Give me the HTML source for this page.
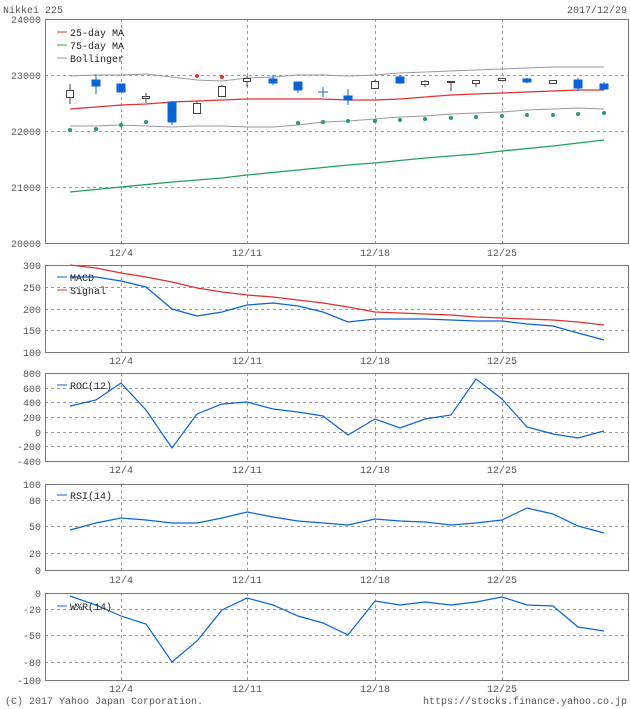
<!DOCTYPE html>
<html><head><meta charset="utf-8"><style>
html,body{margin:0;padding:0;background:#fff;}
svg{display:block;font-family:"Liberation Mono","DejaVu Sans Mono",monospace;font-size:10px;}
.ax{fill:#555}
.g{stroke:#999;stroke-dasharray:3,3;stroke-width:1;fill:none}
.b{stroke:#777;fill:none;stroke-width:1}
.lg{fill:#222}
</style></head><body>
<svg width="630" height="709" viewBox="0 0 630 709">
<text x="3" y="13" class="ax">Nikkei 225</text>
<text x="627" y="13" class="ax" text-anchor="end">2017/12/29</text>

<!-- TOP PANEL -->
<g>
<line class="g" x1="45" x2="629" y1="75.5" y2="75.5"/><line class="g" x1="45" x2="629" y1="131.5" y2="131.5"/><line class="g" x1="45" x2="629" y1="187.5" y2="187.5"/>
<line class="g" x1="121.5" x2="121.5" y1="19" y2="243"/><line class="g" x1="247.5" x2="247.5" y1="19" y2="243"/><line class="g" x1="375.5" x2="375.5" y1="19" y2="243"/><line class="g" x1="502.5" x2="502.5" y1="19" y2="243"/>
<rect class="b" x="45.5" y="19.5" width="583" height="224"/>
<g class="ax" text-anchor="end"><text x="41" y="23">24000</text><text x="41" y="79">23000</text><text x="41" y="135">22000</text><text x="41" y="191">21000</text><text x="41" y="247">20000</text></g>
<g class="ax" text-anchor="middle"><text x="121" y="256">12/4</text><text x="247" y="256">12/11</text><text x="375" y="256">12/18</text><text x="502" y="256">12/25</text></g>
<polyline fill="none" stroke="#999" points="70,76 96,75 121,75 146,74 172,77 197,80 222,81 247,78 273,77 298,75 323,75 348,76 375,75 400,73 425,72 451,71 476,70 502,69 527,68 553,67 578,67 604,67"/>
<polyline fill="none" stroke="#999" points="70,126 96,126 121,125 146,126 172,127 197,126 222,126 247,127 273,127 298,125 323,122 348,121 375,119 400,117 425,116 451,114 476,113 502,112 527,110 553,109 578,108 604,109"/>
<polyline fill="none" stroke="#e03030" stroke-width="1.3" points="70,109 96,107 121,105 146,104 172,102 197,101 222,100 247,99 273,99 298,99 323,99 348,100 375,100 400,99 425,97 451,95 476,94 502,93 527,92 553,91 578,90 604,90"/>
<polyline fill="none" stroke="#20a060" stroke-width="1.3" points="70,192 121,187 172,182 222,178 247,175 298,170 348,165 375,163 425,158 476,154 502,151 553,146 604,140"/>
<g fill="#20a060"><circle cx="70" cy="130" r="2"/><circle cx="96" cy="129" r="2"/><circle cx="121" cy="125" r="2"/><circle cx="146" cy="122" r="2"/><circle cx="298" cy="123" r="2"/><circle cx="323" cy="122" r="2"/><circle cx="348" cy="121" r="2"/><circle cx="375" cy="121" r="2"/><circle cx="400" cy="120" r="2"/><circle cx="425" cy="119" r="2"/><circle cx="451" cy="118" r="2"/><circle cx="476" cy="117" r="2"/><circle cx="502" cy="116" r="2"/><circle cx="527" cy="115" r="2"/><circle cx="553" cy="115" r="2"/><circle cx="578" cy="114" r="2"/><circle cx="604" cy="113" r="2"/></g>
<g fill="#e03030"><circle cx="197" cy="76" r="2"/><circle cx="222" cy="77" r="2"/></g>
<g stroke="#444" fill="#fff">
<line x1="70" x2="70" y1="84" y2="104"/><rect x="66.5" y="90.5" width="7" height="7"/>
<line x1="146" x2="146" y1="93" y2="103"/><rect x="142.5" y="96.5" width="7" height="2"/>
<line x1="197" x2="197" y1="101" y2="113"/><rect x="193.5" y="103.5" width="7" height="10"/>
<line x1="222" x2="222" y1="85" y2="96"/><rect x="218.5" y="86.5" width="7" height="10"/>
<line x1="247" x2="247" y1="76" y2="87"/><rect x="243.5" y="78.5" width="7" height="3"/>
<line x1="375" x2="375" y1="80" y2="89"/><rect x="371.5" y="81.5" width="7" height="7"/>
<line x1="425" x2="425" y1="80" y2="87"/><rect x="421.5" y="81.5" width="7" height="3"/>
<line x1="451" x2="451" y1="81" y2="91"/><rect x="447.5" y="81.5" width="7" height="1" fill="#444"/>
<line x1="476" x2="476" y1="80" y2="87"/><rect x="472.5" y="80.5" width="7" height="3"/>
<line x1="502" x2="502" y1="78" y2="81"/><rect x="498.5" y="78.5" width="7" height="2"/>
<line x1="553" x2="553" y1="80" y2="83"/><rect x="549.5" y="80.5" width="7" height="3"/>
</g>
<g stroke="#0a64d8" fill="#0a64d8">
<line x1="96" x2="96" y1="75" y2="94"/><rect x="92" y="80" width="8" height="6"/>
<line x1="121" x2="121" y1="84" y2="92"/><rect x="117" y="84" width="8" height="8"/>
<line x1="172" x2="172" y1="101" y2="125"/><rect x="168" y="102" width="8" height="20"/>
<line x1="273" x2="273" y1="75" y2="85"/><rect x="269" y="79" width="8" height="4"/>
<line x1="298" x2="298" y1="82" y2="93"/><rect x="294" y="82" width="8" height="8"/>
<line x1="323" x2="323" y1="87" y2="97"/><line x1="318" x2="328" y1="92" y2="92"/>
<line x1="348" x2="348" y1="89" y2="105"/><rect x="344" y="96" width="8" height="4"/>
<line x1="400" x2="400" y1="75" y2="84"/><rect x="396" y="77" width="8" height="6"/>
<line x1="527" x2="527" y1="78" y2="83"/><rect x="523" y="79" width="8" height="3"/>
<line x1="578" x2="578" y1="78" y2="91"/><rect x="574" y="80" width="8" height="8"/>
<line x1="604" x2="604" y1="82" y2="90"/><rect x="600" y="84" width="8" height="5"/>
</g>
<line x1="57" x2="67" y1="32" y2="32" stroke="#e03030"/><text x="70" y="36" class="lg">25-day MA</text>
<line x1="57" x2="67" y1="45" y2="45" stroke="#20a060"/><text x="70" y="49" class="lg">75-day MA</text>
<line x1="57" x2="67" y1="58" y2="58" stroke="#999"/><text x="70" y="62" class="lg">Bollinger</text>
</g>

<!-- MACD -->
<g>
<line class="g" x1="45" x2="629" y1="287.5" y2="287.5"/><line class="g" x1="45" x2="629" y1="309.5" y2="309.5"/><line class="g" x1="45" x2="629" y1="330.5" y2="330.5"/>
<line class="g" x1="121.5" x2="121.5" y1="265" y2="352"/><line class="g" x1="247.5" x2="247.5" y1="265" y2="352"/><line class="g" x1="375.5" x2="375.5" y1="265" y2="352"/><line class="g" x1="502.5" x2="502.5" y1="265" y2="352"/>
<rect class="b" x="45.5" y="265.5" width="583" height="87"/>
<g class="ax" text-anchor="end"><text x="41" y="269">300</text><text x="41" y="291">250</text><text x="41" y="313">200</text><text x="41" y="334">150</text><text x="41" y="356">100</text></g>
<g class="ax" text-anchor="middle"><text x="121" y="364">12/4</text><text x="247" y="364">12/11</text><text x="375" y="364">12/18</text><text x="502" y="364">12/25</text></g>
<polyline fill="none" stroke="#e03030" stroke-width="1.3" points="70,265 96,268 121,273 146,277 172,282 197,288 222,292 247,295 273,297 298,300 323,303 348,307 375,312 400,313 425,314 451,315 476,317 502,318 527,319 553,320 578,322 604,325"/>
<polyline fill="none" stroke="#0a64d8" stroke-width="1.3" points="70,277 96,277 121,281 146,287 172,309 197,316 222,312 247,305 273,303 298,306 323,312 348,322 375,319 400,319 425,319 451,320 476,321 502,321 527,324 553,326 578,333 604,340"/>
<line x1="57" x2="67" y1="277" y2="277" stroke="#0a64d8"/><text x="70" y="281" class="lg">MACD</text>
<line x1="57" x2="67" y1="290" y2="290" stroke="#e03030"/><text x="70" y="294" class="lg">Signal</text>
</g>

<!-- ROC -->
<g>
<line class="g" x1="45" x2="629" y1="388.5" y2="388.5"/><line class="g" x1="45" x2="629" y1="402.5" y2="402.5"/><line class="g" x1="45" x2="629" y1="417.5" y2="417.5"/><line class="g" x1="45" x2="629" y1="432.5" y2="432.5"/><line class="g" x1="45" x2="629" y1="446.5" y2="446.5"/>
<line class="g" x1="121.5" x2="121.5" y1="373" y2="461"/><line class="g" x1="247.5" x2="247.5" y1="373" y2="461"/><line class="g" x1="375.5" x2="375.5" y1="373" y2="461"/><line class="g" x1="502.5" x2="502.5" y1="373" y2="461"/>
<rect class="b" x="45.5" y="373.5" width="583" height="88"/>
<g class="ax" text-anchor="end"><text x="41" y="377">800</text><text x="41" y="392">600</text><text x="41" y="406">400</text><text x="41" y="421">200</text><text x="41" y="436">0</text><text x="41" y="450">-200</text><text x="41" y="465">-400</text></g>
<g class="ax" text-anchor="middle"><text x="121" y="473">12/4</text><text x="247" y="473">12/11</text><text x="375" y="473">12/18</text><text x="502" y="473">12/25</text></g>
<polyline fill="none" stroke="#0a64d8" stroke-width="1.2" points="70,406 96,400 121,383 146,410 172,448 197,414 222,404 247,402 273,409 298,412 323,416 348,435 375,419 400,428 425,419 451,415 476,379 502,399 527,427 553,434 578,438 604,431"/>
<line x1="57" x2="67" y1="385" y2="385" stroke="#0a64d8"/><text x="70" y="389" class="lg">ROC(12)</text>
</g>

<!-- RSI -->
<g>
<line class="g" x1="45" x2="629" y1="500.5" y2="500.5"/><line class="g" x1="45" x2="629" y1="526.5" y2="526.5"/><line class="g" x1="45" x2="629" y1="553.5" y2="553.5"/>
<line class="g" x1="121.5" x2="121.5" y1="484" y2="570"/><line class="g" x1="247.5" x2="247.5" y1="484" y2="570"/><line class="g" x1="375.5" x2="375.5" y1="484" y2="570"/><line class="g" x1="502.5" x2="502.5" y1="484" y2="570"/>
<rect class="b" x="45.5" y="484.5" width="583" height="86"/>
<g class="ax" text-anchor="end"><text x="41" y="488">100</text><text x="41" y="504">80</text><text x="41" y="530">50</text><text x="41" y="557">20</text><text x="41" y="574">0</text></g>
<g class="ax" text-anchor="middle"><text x="121" y="583">12/4</text><text x="247" y="583">12/11</text><text x="375" y="583">12/18</text><text x="502" y="583">12/25</text></g>
<polyline fill="none" stroke="#0a64d8" stroke-width="1.2" points="70,530 96,523 121,518 146,520 172,523 197,523 222,518 247,512 273,517 298,521 323,523 348,525 375,519 400,521 425,522 451,525 476,523 502,520 527,508 553,514 578,526 604,533"/>
<line x1="57" x2="67" y1="495" y2="495" stroke="#0a64d8"/><text x="70" y="499" class="lg">RSI(14)</text>
</g>

<!-- W%R -->
<g>
<line class="g" x1="45" x2="629" y1="609.5" y2="609.5"/><line class="g" x1="45" x2="629" y1="635.5" y2="635.5"/><line class="g" x1="45" x2="629" y1="662.5" y2="662.5"/>
<line class="g" x1="121.5" x2="121.5" y1="593" y2="680"/><line class="g" x1="247.5" x2="247.5" y1="593" y2="680"/><line class="g" x1="375.5" x2="375.5" y1="593" y2="680"/><line class="g" x1="502.5" x2="502.5" y1="593" y2="680"/>
<rect class="b" x="45.5" y="593.5" width="583" height="87"/>
<g class="ax" text-anchor="end"><text x="41" y="597">0</text><text x="41" y="613">-20</text><text x="41" y="639">-50</text><text x="41" y="666">-80</text><text x="41" y="684">-100</text></g>
<g class="ax" text-anchor="middle"><text x="121" y="692">12/4</text><text x="247" y="692">12/11</text><text x="375" y="692">12/18</text><text x="502" y="692">12/25</text></g>
<polyline fill="none" stroke="#0a64d8" stroke-width="1.2" points="70,596 96,605 121,616 146,624 172,662 197,641 222,610 247,598 273,605 298,616 323,623 348,635 375,601 400,605 425,602 451,605 476,602 502,597 527,605 553,606 578,627 604,631"/>
<line x1="57" x2="67" y1="606" y2="606" stroke="#0a64d8"/><text x="70" y="610" class="lg">W%R(14)</text>
</g>

<text x="5" y="704" class="ax">(C) 2017 Yahoo Japan Corporation.</text>
<text x="627" y="704" class="ax" text-anchor="end">https://stocks.finance.yahoo.co.jp</text>
</svg>
</body></html>
